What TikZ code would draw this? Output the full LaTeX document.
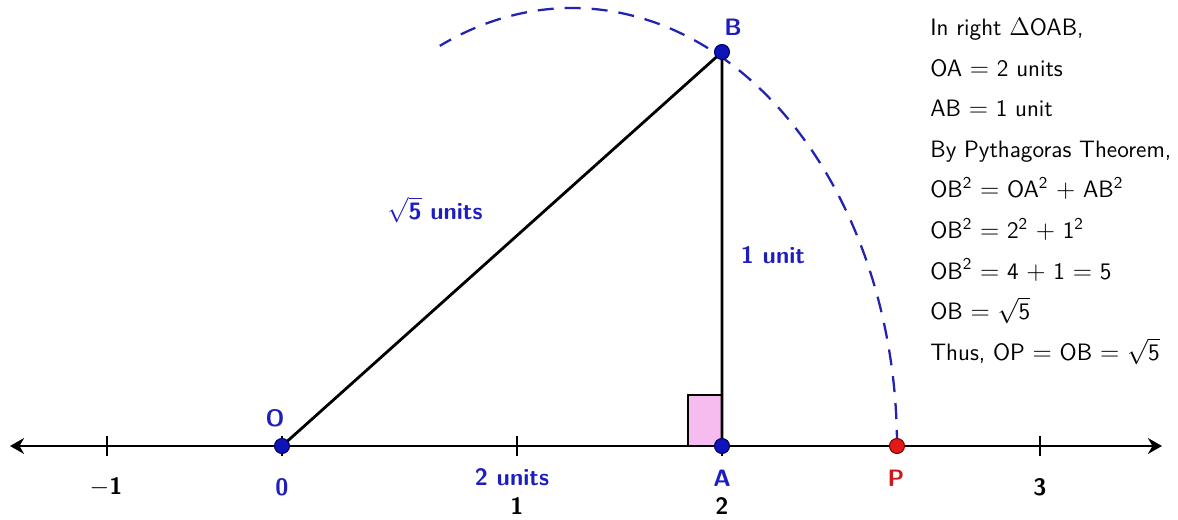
\documentclass[tikz,border=0pt]{standalone}
\usepackage{amsmath}
\usepackage{amssymb}
\usetikzlibrary{arrows.meta}

\definecolor{ptblue}{RGB}{30,30,190}
\definecolor{dotblue}{RGB}{15,20,185}
\definecolor{arcblue}{RGB}{35,35,175}
\definecolor{ptred}{RGB}{205,25,30}
\definecolor{dotred}{RGB}{225,25,25}
\definecolor{rightpink}{RGB}{246,188,240}

\begin{document}
\begin{tikzpicture}[x=0.02cm, y=0.02cm, >={Stealth[length=8pt,width=9pt]},
    every node/.style={font=\sffamily\bfseries\fontsize{13.5}{15}\selectfont},
    thickline/.style={line width=1.6pt, black},
    dot/.style={circle, inner sep=0pt, minimum size=0.3cm, line width=0.6pt}]
    \useasboundingbox (0,0) rectangle (1178,520);
    % points
    \coordinate (O) at (282,74);
    \coordinate (A) at (722,74);
    \coordinate (B) at (722,468);
    \coordinate (P) at (897,74);
    \coordinate (Lend) at (10,74);
    \coordinate (Rend) at (1162,74);
    % arc from P up through B
    \draw[arcblue, line width=1.3pt, dash pattern=on 0.32cm off 0.22cm]
        (P) arc[start angle=0, end angle=114, x radius=325, y radius=438];
    % number line
    \draw[thickline, <->] (Lend) -- (Rend);
    \foreach \x in {107,282,517,722,1040}
        \draw[thickline] (\x,64) -- (\x,84);
    % right angle mark
    \draw[line width=1.2pt, fill=rightpink] (688,74) rectangle (722,125);
    % triangle
    \draw[thickline] (O) -- (B) -- (A);
    \node[dot, draw=blue!40!black, fill=dotblue] (dotO) at (O) {};
    \node[dot, draw=blue!40!black, fill=dotblue] (dotA) at (A) {};
    \node[dot, draw=blue!40!black, fill=dotblue] (dotB) at (B) {};
    \node[dot, draw=red!50!black, fill=dotred] (dotP) at (P) {};
    % labels
    \node[ptblue] (labO) at (275,102) {O};
    \node[ptblue] (labB) at (733,493) {B};
    \node[ptblue] (labA) at (722,42) {A};
    \node[ptred] (labP) at (896,42) {P};
    \node (tickm1) at (106,33) {$-$1};
    \node[ptblue] (tick0) at (282,33) {0};
    \node (tick1) at (517,14) {1};
    \node (tick2) at (722,14) {2};
    \node (tick3) at (1040,33) {3};
    \node[ptblue] (lenOA) at (512,43) {2 units};
    \node[ptblue] (lenOB) at (435,310) {$\sqrt{\mbox{5}}$ units};
    \node[ptblue] (lenAB) at (773,265) {1 unit};
    \node[font=\sffamily\fontsize{13.5}{23.1}\selectfont, align=left, anchor=north west, inner sep=0pt]
        (proof) at (930,502) {In right $\Delta$OAB,\\
        OA $=$ 2 units\\
        AB $=$ 1 unit\\
        By Pythagoras Theorem,\\
        OB\textsuperscript{2} $=$ OA\textsuperscript{2} $+$ AB\textsuperscript{2}\\
        OB\textsuperscript{2} $=$ 2\textsuperscript{2} $+$ 1\textsuperscript{2}\\
        OB\textsuperscript{2} $=$ 4 $+$ 1 $=$ 5\\
        OB $=$ $\sqrt{\mbox{5}}$\\
        Thus, OP $=$ OB $=$ $\sqrt{\mbox{5}}$};
\end{tikzpicture}
\end{document}
